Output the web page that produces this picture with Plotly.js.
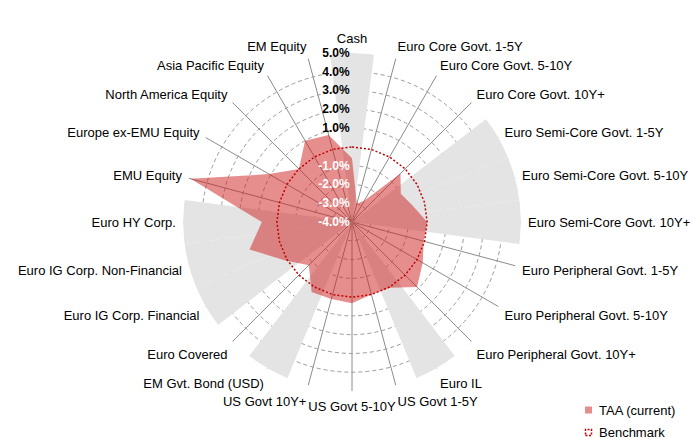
<!DOCTYPE html>
<html><head><meta charset="utf-8">
<script src="https://cdn.plot.ly/plotly-3.0.1.min.js"></script>
<style>html,body{margin:0;padding:0;background:#fff}</style>
</head><body><div id="chart" style="width:699px;height:439px"></div>
<script>
const categories = ["Cash","Euro Core Govt. 1-5Y","Euro Core Govt. 5-10Y","Euro Core Govt. 10Y+",
  "Euro Semi-Core Govt. 1-5Y","Euro Semi-Core Govt. 5-10Y","Euro Semi-Core Govt. 10Y+",
  "Euro Peripheral Govt. 1-5Y","Euro Peripheral Govt. 5-10Y","Euro Peripheral Govt. 10Y+",
  "Euro IL","US Govt 1-5Y","US Govt 5-10Y","US Govt 10Y+","EM Gvt. Bond (USD)","Euro Covered",
  "Euro IG Corp. Financial","Euro IG Corp. Non-Financial","Euro HY Corp.","EMU Equity",
  "Europe ex-EMU Equity","North America Equity","Asia Pacific Equity","EM Equity"];
const taaCurrent = [-0.6,-3.0,-2.7,-0.35,-1.0,-0.65,0.0,-0.05,0.35,0.9,0.05,0.0,0.33,0.25,0.3,-0.75,0.1,1.65,0.8,4.9,1.1,0.0,1.0,0.8];
const benchmark = [0,0,0,0,0,0,0,0,0,0,0,0,0,0,0,0,0,0,0,0,0,0,0,0];
const shadedCats = ["Cash","Euro Semi-Core Govt. 1-5Y","Euro Semi-Core Govt. 5-10Y","Euro Semi-Core Govt. 10Y+",
  "Euro IL","EM Gvt. Bond (USD)","Euro IG Corp. Financial","Euro IG Corp. Non-Financial","Euro HY Corp."];
const axisMin = -4, axisMax = 5;
const tickValues = [-4,-3,-2,-1,1,2,3,4,5];
const tickLabels = ["-4.0%","-3.0%","-2.0%","-1.0%","1.0%","2.0%","3.0%","4.0%","5.0%"];
const legendNames = ["TAA (current)","Benchmark"];

const FONT = 'Arial, "Liberation Sans", sans-serif';
const W = 699, H = 439;
const TAA_FILL = 'rgba(205,30,30,0.5)';
const BENCH_COLOR = '#c00000';
const ticktext = tickValues.map((v,i)=> v<0 ? '<span style="color:#ffffff">'+tickLabels[i]+'</span>' : tickLabels[i]);

const traces = [
  {type:'barpolar', theta: shadedCats, r: shadedCats.map(()=>axisMax-axisMin), base: shadedCats.map(()=>axisMin),
   marker:{color:'#e4e4e4', line:{width:0}}, showlegend:false, hoverinfo:'skip'},
  {type:'scatterpolar', mode:'lines', name:legendNames[0], theta: categories, r: taaCurrent, fill:'toself',
   fillcolor:TAA_FILL, line:{width:0, color:'rgba(0,0,0,0)'}, showlegend:false},
  {type:'scatterpolar', mode:'lines', name:legendNames[1], theta: categories.concat([categories[0]]), r: benchmark.concat([benchmark[0]]),
   line:{color:BENCH_COLOR, width:1.5, dash:'2px,2px'}, showlegend:false}
];

// legend drawn as paper-anchored swatches + text
const px = x => x / W, py = y => 1 - y / H;
const shapes = [
  {type:'rect', xref:'paper', yref:'paper', x0:px(585), x1:px(592), y0:py(413.5), y1:py(406.5),
   fillcolor:TAA_FILL, line:{width:0}},
  {type:'rect', xref:'paper', yref:'paper', x0:px(585.5), x1:px(591.5), y0:py(435.5), y1:py(429.5),
   fillcolor:'rgba(0,0,0,0)', line:{color:BENCH_COLOR, width:1.5, dash:'2px,1.5px'}}
];
const annotations = legendNames.map((t,i)=>({
  xref:'paper', yref:'paper', x:px(597), y:py(i===0 ? 410.5 : 432.5), xanchor:'left', yanchor:'middle',
  text:t, showarrow:false, font:{family:FONT, size:13, color:'#000'}
}));

const layout = {
  width:W, height:H,
  margin:{l:0, r:0, t:0, b:0},
  paper_bgcolor:'#fff',
  showlegend:false,
  shapes:shapes, annotations:annotations,
  polar:{
    domain:{x:[183/W, 521/W], y:[48/H, 386/H]},
    bgcolor:'#fff',
    bargap:0,
    angularaxis:{type:'category', categoryarray:categories, direction:'clockwise', rotation:90,
      showgrid:true, gridcolor:'#8c8c8c', gridwidth:1, showline:false,
      ticks:'outside', ticklen:4, tickcolor:'rgba(0,0,0,0)',
      tickfont:{family:FONT, size:13, color:'#000'}},
    radialaxis:{range:[axisMin, axisMax], angle:90, side:'counterclockwise', tickangle:90,
      tickmode:'array', tickvals:tickValues, ticktext:ticktext,
      tickfont:{family:FONT, size:12, color:'#000', weight:'bold'},
      showline:false, ticks:'', gridcolor:'#9a9a9a', gridwidth:1, griddash:'4px,3px'}
  }
};
Plotly.newPlot('chart', traces, layout, {displayModeBar:false, staticPlot:true});
</script></body></html>
